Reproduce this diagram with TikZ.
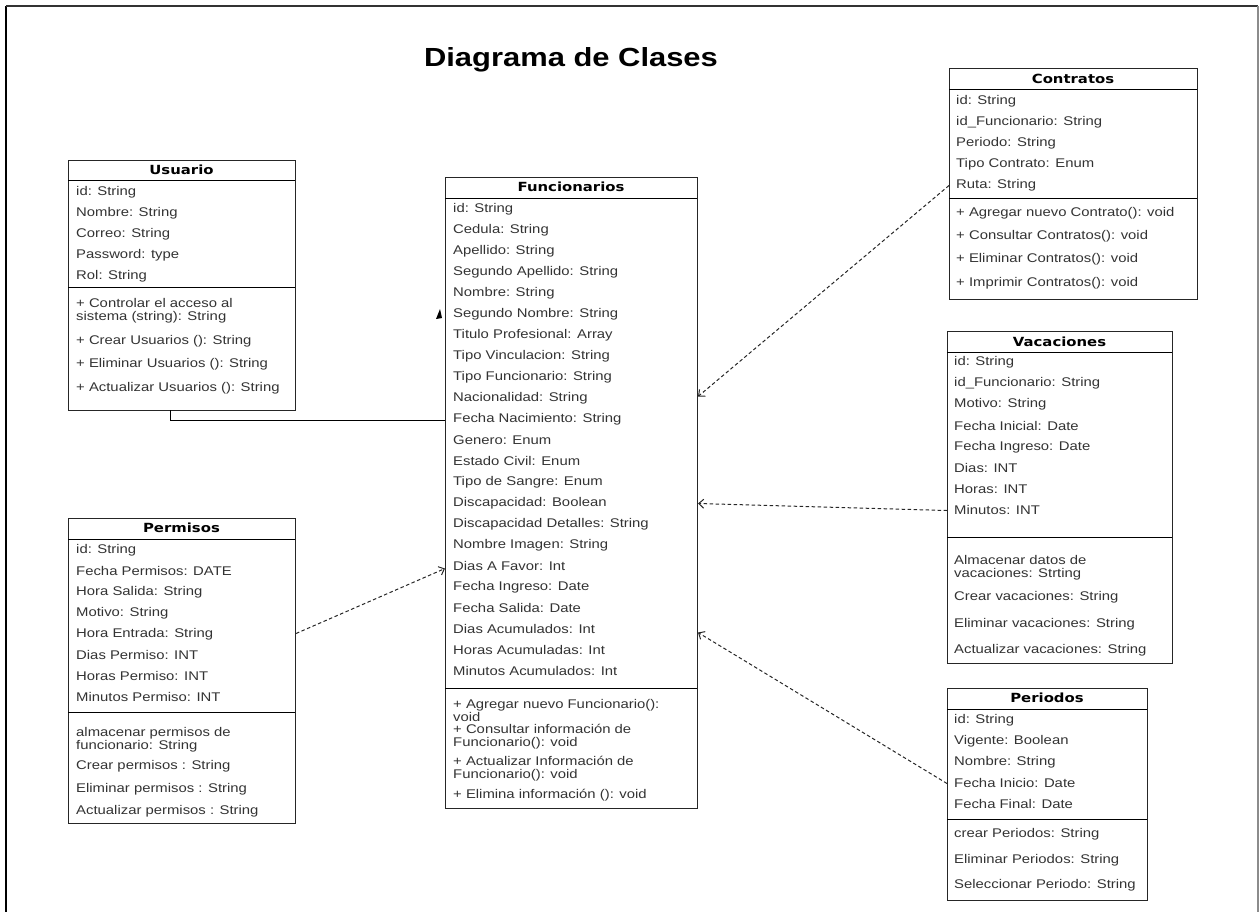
\documentclass[tikz,border=0pt]{standalone}
\usepackage{fontspec}
\setmainfont{Liberation Sans}[FakeStretch=1.18]
\newfontfamily\headfont{DejaVu Sans}[FakeStretch=1.18]
\usetikzlibrary{arrows.meta}

\begin{document}
\begin{tikzpicture}[
    x=1pt, y=-1pt,
    classbox/.style={
      draw=black!85,
      line width=1pt,
      anchor=north west,
      inner sep=0pt
    },
    classname/.style={
      font=\headfont\bfseries\fontsize{12.6}{14}\selectfont,
      inner sep=0pt
    },
    member/.style={
      font=\fontsize{12.6}{13}\selectfont,
      text=black!80,
      anchor=west,
      align=left,
      inner sep=0pt
    },
    depend/.style={
      draw=black!85,
      line width=1pt,
      dash pattern=on 3.5pt off 2.5pt,
      -{Straight Barb[length=5pt,width=9pt]}
    }
  ]

    \useasboundingbox (0,0) rectangle (1260,911);

    % Marco
    \draw[line width=2pt] (6,915) -- (6,6);
    \draw[line width=1.4pt, black!80] (6,6) -- (1258,6);
    \draw[line width=1.4pt, black!45] (1258,6) -- (1258,915);

    \node[font=\bfseries\fontsize{26.2}{30}\selectfont] (title) at (571,60)
      {Diagrama de Clases};

    % Usuario
    \node[classbox, minimum width=227, minimum height=250] (usuario) at (68,160) {};
    \node[classname] (usuarioT) at (181.5,170) {Usuario};
    \draw[line width=1pt] (68,180) -- (295,180);
    \foreach \txt [count=\i from 0] in {id: String, Nombre: String, Correo: String,
        Password: type, Rol: String}
      \node[member] at (76,192+21*\i) {\txt};
    \draw[line width=1pt] (68,287) -- (295,287);
    \node[member] at (76,311) {+ Controlar el acceso al\\sistema (string): String};
    \node[member] at (76,341) {+ Crear Usuarios (): String};
    \node[member] at (76,364) {+ Eliminar Usuarios (): String};
    \node[member] at (76,388) {+ Actualizar Usuarios (): String};

    % Funcionarios
    \node[classbox, minimum width=252, minimum height=631] (func) at (445,177) {};
    \node[classname] (funcT) at (571,187) {Funcionarios};
    \draw[line width=1pt] (445,198) -- (697,198);
    \foreach \txt [count=\i from 0] in {id: String, Cedula: String, Apellido: String,
        Segundo Apellido: String, Nombre: String, Segundo Nombre: String,
        Titulo Profesional: Array, Tipo Vinculacion: String, Tipo Funcionario: String,
        Nacionalidad: String, Fecha Nacimiento: String, Genero: Enum,
        Estado Civil: Enum, Tipo de Sangre: Enum, Discapacidad: Boolean,
        Discapacidad Detalles: String, Nombre Imagen: String, Dias A Favor: Int,
        Fecha Ingreso: Date, Fecha Salida: Date, Dias Acumulados: Int,
        Horas Acumuladas: Int, Minutos Acumulados: Int}
      \node[member] at (453,209+21*\i) {\txt};
    \draw[line width=1pt] (445,688) -- (697,688);
    \node[member] at (453,710) {+ Agregar nuevo Funcionario():\\void};
    \node[member] at (453,737) {+ Consultar información de\\Funcionario(): void};
    \node[member] at (453,769) {+ Actualizar Información de\\Funcionario(): void};
    \node[member] at (453,795) {+ Elimina información (): void};

    % Contratos
    \node[classbox, minimum width=248, minimum height=231] (contratos) at (949,68) {};
    \node[classname] (contratosT) at (1073,79) {Contratos};
    \draw[line width=1pt] (949,89) -- (1197,89);
    \foreach \txt [count=\i from 0] in {id: String, id\_Funcionario: String,
        Periodo: String, Tipo Contrato: Enum, Ruta: String}
      \node[member] at (956,101+21*\i) {\txt};
    \draw[line width=1pt] (949,198) -- (1197,198);
    \foreach \txt [count=\i from 0] in {+ Agregar nuevo Contrato(): void,
        + Consultar Contratos(): void, + Eliminar Contratos(): void,
        + Imprimir Contratos(): void}
      \node[member] at (956,213+23.3*\i) {\txt};

    % Vacaciones
    \node[classbox, minimum width=225, minimum height=332] (vacaciones) at (947,331) {};
    \node[classname] (vacacionesT) at (1059.5,342) {Vacaciones};
    \draw[line width=1pt] (947,352) -- (1172,352);
    \foreach \txt [count=\i from 0] in {id: String, id\_Funcionario: String,
        Motivo: String, Fecha Inicial: Date, Fecha Ingreso: Date, Dias: INT,
        Horas: INT, Minutos: INT}
      \node[member] at (954,362+21.2*\i) {\txt};
    \draw[line width=1pt] (947,537) -- (1172,537);
    \node[member] at (954,568) {Almacenar datos de\\vacaciones: Strting};
    \node[member] at (954,597) {Crear vacaciones: String};
    \node[member] at (954,624) {Eliminar vacaciones: String};
    \node[member] at (954,650) {Actualizar vacaciones: String};

    % Periodos
    \node[classbox, minimum width=200, minimum height=212] (periodos) at (947,688) {};
    \node[classname] (periodosT) at (1047,698) {Periodos};
    \draw[line width=1pt] (947,709) -- (1147,709);
    \foreach \txt [count=\i from 0] in {id: String, Vigente: Boolean, Nombre: String,
        Fecha Inicio: Date, Fecha Final: Date}
      \node[member] at (954,720+21*\i) {\txt};
    \draw[line width=1pt] (947,819) -- (1147,819);
    \node[member] at (954,834) {crear Periodos: String};
    \node[member] at (954,860) {Eliminar Periodos: String};
    \node[member] at (954,885) {Seleccionar Periodo: String};

    % Permisos
    \node[classbox, minimum width=227, minimum height=305] (permisos) at (68,518) {};
    \node[classname] (permisosT) at (181.5,528) {Permisos};
    \draw[line width=1pt] (68,539) -- (295,539);
    \foreach \txt [count=\i from 0] in {id: String, Fecha Permisos: DATE,
        Hora Salida: String, Motivo: String, Hora Entrada: String,
        Dias Permiso: INT, Horas Permiso: INT, Minutos Permiso: INT}
      \node[member] at (76,550+21*\i) {\txt};
    \draw[line width=1pt] (68,712) -- (295,712);
    \node[member] at (76,740) {almacenar permisos de\\funcionario: String};
    \node[member] at (76,766) {Crear permisos : String};
    \node[member] at (76,789) {Eliminar permisos : String};
    \node[member] at (76,811) {Actualizar permisos : String};

    % Relaciones
    \coordinate (usuarioBase) at (170,410);
    \coordinate (funcUsuario) at (445,420);
    \draw[line width=1pt] (usuarioBase) |- (funcUsuario);

    \coordinate (punta) at (440,309);
    \fill (436,319) -- (punta) -- (442,318) -- cycle;

    \draw[depend] ([yshift=-1.5pt]contratos.west) -- ([yshift=96.5pt]func.east);
    \draw[depend] ([yshift=-13pt]vacaciones.west) -- ([yshift=-10.5pt]func.east);
    \draw[depend] ([yshift=11pt]periodos.west) -- ([yshift=-139.5pt]func.east);
    \draw[depend] ([yshift=37.5pt]permisos.east) -- ([yshift=-75.5pt]func.west);

  \end{tikzpicture}
\end{document}
